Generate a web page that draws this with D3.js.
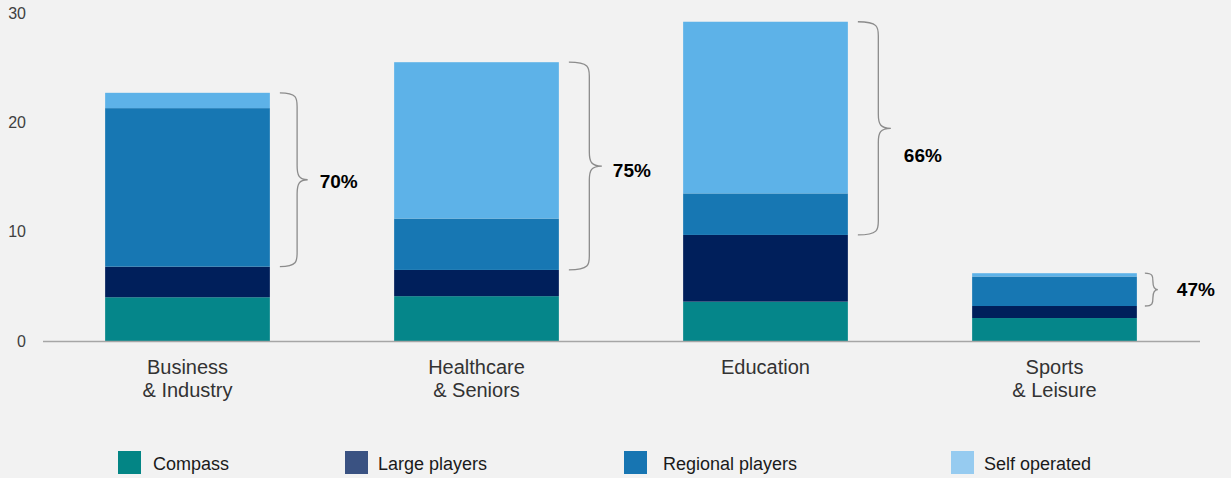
<!DOCTYPE html>
<html>
<head>
<meta charset="utf-8">
<script src="https://cdn.jsdelivr.net/npm/d3@7"></script>
<style>
  body { margin: 0; background: #f2f2f2; }
  svg { display: block; font-family: "Liberation Sans", Arial, sans-serif; }
</style>
</head>
<body>
<div id="chart"></div>
<script>
// market segments
var categories = ["Business\n& Industry", "Healthcare\n& Seniors", "Education", "Sports\n& Leisure"];
var seriesNames = ["Compass", "Large players", "Regional players", "Self operated"];
var compass = [4.0, 4.1, 3.6, 2.1];
var largePlayers = [2.8, 2.4, 6.1, 1.1];
var regionalPlayers = [14.5, 4.7, 3.8, 2.7];
var selfOperated = [1.4, 14.3, 15.7, 0.3];
var shareLabels = ["70%", "75%", "66%", "47%"];
var yTicks = [0, 10, 20, 30];

var barColors = ["#05868a", "#001f5b", "#1777b3", "#5db2e8"];
var legendColors = ["#038585", "#3a5282", "#1775b2", "#96cbf0"];

var width = 1231, height = 478;

var svg = d3.select("#chart").append("svg")
    .attr("width", width)
    .attr("height", height);

svg.append("rect").attr("width", width).attr("height", height).attr("fill", "#f2f2f2");

var rows = categories.map(function(c, i) {
  return {cat: c, "Compass": compass[i], "Large players": largePlayers[i],
          "Regional players": regionalPlayers[i], "Self operated": selfOperated[i],
          label: shareLabels[i]};
});

var stack = d3.stack().keys(seriesNames);
var layers = stack(rows);

var x = d3.scaleBand()
  .domain(categories)
  .range([43, 1199])
  .paddingInner(0.43)
  .paddingOuter(0.215);

var y = d3.scaleLinear()
  .domain([0, 30])
  .range([341, 13]);

// y tick labels
svg.append("g").selectAll("text")
  .data(yTicks)
  .enter().append("text")
    .attr("x", 26)
    .attr("y", function(d) { return y(d); })
    .attr("dy", "0.35em")
    .attr("text-anchor", "end")
    .attr("fill", "#404040")
    .style("font-size", "16px")
    .text(function(d) { return d; });

// bars
svg.append("g").selectAll("g")
  .data(layers)
  .enter().append("g")
    .attr("fill", function(d, i) { return barColors[i]; })
  .selectAll("rect")
  .data(function(d) { return d; })
  .enter().append("rect")
    .attr("x", function(d) { return x(d.data.cat); })
    .attr("y", function(d) { return y(d[1]); })
    .attr("width", x.bandwidth())
    .attr("height", function(d) { return y(d[0]) - y(d[1]); });

// axis line
svg.append("line")
  .attr("x1", 43).attr("x2", 1200)
  .attr("y1", y(0) + 0.5).attr("y2", y(0) + 0.5)
  .attr("stroke", "#a6a6a6")
  .attr("stroke-width", 1.5);

// category labels
var catG = svg.append("g").selectAll("text")
  .data(categories)
  .enter().append("text")
    .attr("text-anchor", "middle")
    .attr("fill", "#333333")
    .style("font-size", "20px")
    .attr("transform", function(d) { return "translate(" + (x(d) + x.bandwidth() / 2) + ",374)"; });
catG.selectAll("tspan")
  .data(function(d) { return d.split("\n"); })
  .enter().append("tspan")
    .attr("x", 0)
    .attr("dy", function(d, i) { return i ? 23 : 0; })
    .text(function(d) { return d; });

// braces over regional + self operated
function bracePath(x0, y1, y2, w) {
  var ym = (y1 + y2) / 2;
  var xs = x0 + w * 0.62, xt = x0 + w;
  var r = Math.min(14, (y2 - y1) / 4);
  return "M" + x0 + "," + y1 +
    " C" + xs + "," + y1 + " " + xs + "," + (y1 + r * 0.4) + " " + xs + "," + (y1 + r) +
    " L" + xs + "," + (ym - r) +
    " C" + xs + "," + (ym - r * 0.3) + " " + (xs + 2) + "," + ym + " " + xt + "," + ym +
    " C" + (xs + 2) + "," + ym + " " + xs + "," + (ym + r * 0.3) + " " + xs + "," + (ym + r) +
    " L" + xs + "," + (y2 - r) +
    " C" + xs + "," + (y2 - r * 0.4) + " " + xs + "," + y2 + " " + x0 + "," + y2;
}

// label nudges, px (layout only)
var labelDx = [12, 11, 13, 19];
var labelDy = [2, 4, 27, 0];

var braces = svg.append("g").selectAll("g")
  .data(rows)
  .enter().append("g");

braces.each(function(d, i) {
  var g = d3.select(this);
  var top = y(d["Compass"] + d["Large players"] + d["Regional players"] + d["Self operated"]);
  var bot = y(d["Compass"] + d["Large players"]);
  var h = bot - top;
  var w = Math.max(13, Math.min(33, h * 0.16));
  var x0 = x(d.cat) + x.bandwidth() + (h > 100 ? 10 : 8);
  g.append("path")
    .attr("d", bracePath(x0, top, bot, w))
    .attr("fill", "none")
    .attr("stroke", "#8c8c8c")
    .attr("stroke-width", 1.3);
  g.append("text")
    .attr("x", x0 + w + labelDx[i])
    .attr("y", (top + bot) / 2 + labelDy[i])
    .attr("dy", "0.35em")
    .attr("fill", "#000")
    .style("font-size", "19px")
    .style("font-weight", "bold")
    .text(d.label);
});

// legend
var legendX = [118, 345, 624, 951];
var legend = svg.append("g").selectAll("g")
  .data(seriesNames)
  .enter().append("g")
    .attr("transform", function(d, i) { return "translate(" + legendX[i] + ",451)"; });
legend.append("rect")
  .attr("width", 23).attr("height", 23)
  .attr("fill", function(d, i) { return legendColors[i]; });
legend.append("text")
  .attr("x", function(d, i) { return i == 2 ? 39 : (i == 0 ? 35 : 33); })
  .attr("y", 13)
  .attr("dy", "0.35em")
  .attr("fill", "#1a1a1a")
  .style("font-size", "18px")
  .text(function(d) { return d; });
</script>
</body>
</html>
